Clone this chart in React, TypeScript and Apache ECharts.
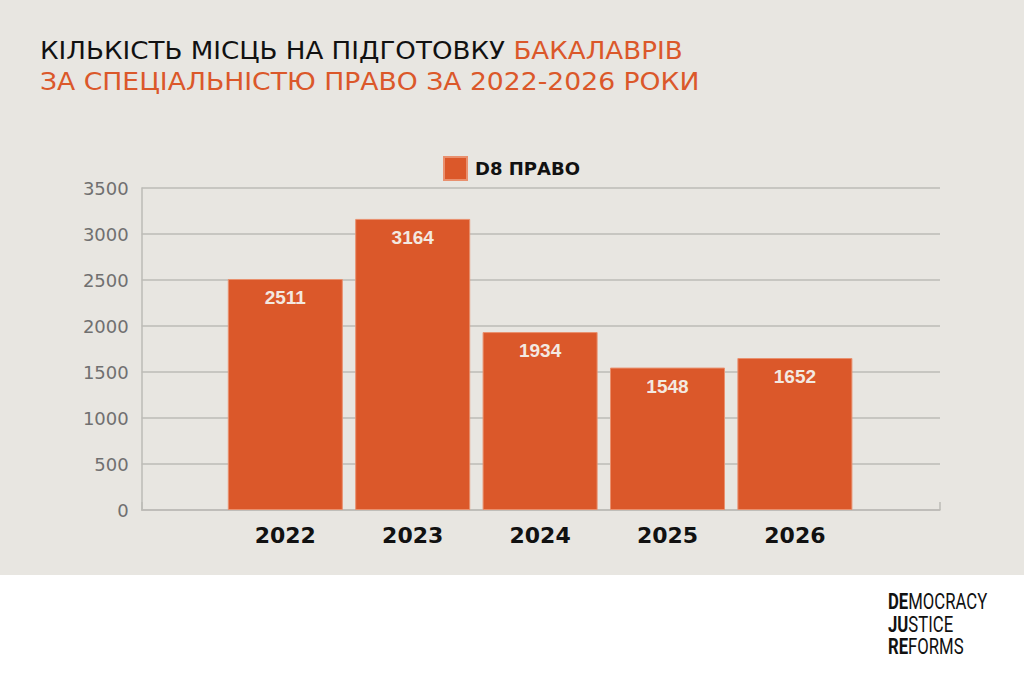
import { useEffect, useRef } from 'react';
import * as echarts from 'echarts';

const years = ['2022', '2023', '2024', '2025', '2026'];
const places = [2511, 3164, 1934, 1548, 1652];
const seriesName = 'D8 ПРАВО';
const yTicks = { min: 0, max: 3500, step: 500 };

const titleBlack = 'КІЛЬКІСТЬ МІСЦЬ НА ПІДГОТОВКУ ';
const titleOrange1 = 'БАКАЛАВРІВ';
const titleOrange2 = 'ЗА СПЕЦІАЛЬНІСТЮ ПРАВО ЗА 2022-2026 РОКИ';
const logoLines = [
    ['DE', 'MOCRACY'],
    ['JU', 'STICE'],
    ['RE', 'FORMS'],
];

const ORANGE = '#db582a';
const BG = '#e8e6e1';
const LINE = '#bdbbb6';

const App = () => {
    const chartRef = useRef<HTMLDivElement | null>(null);

    useEffect(() => {
        const chart = echarts.init(chartRef.current!, null, { renderer: 'svg' });

        const option: echarts.EChartsOption = {
            animation: false,
            backgroundColor: '#ffffff',
            graphic: [
                { type: 'rect', z: -10, shape: { x: 0, y: 0, width: 1024, height: 575 }, style: { fill: BG } },
                {
                    type: 'text',
                    x: 40,
                    y: 51,
                    scaleX: 1.09,
                    style: {
                        text: `{k|${titleBlack}}{o|${titleOrange1}}`,
                        verticalAlign: 'middle',
                        rich: {
                            k: { fontFamily: 'DejaVu Sans', fontSize: 24, fill: '#111111' },
                            o: { fontFamily: 'DejaVu Sans', fontSize: 24, fill: ORANGE },
                        },
                    },
                },
                {
                    type: 'text',
                    x: 40,
                    y: 81,
                    scaleX: 1.11,
                    style: {
                        text: titleOrange2,
                        verticalAlign: 'middle',
                        fontFamily: 'DejaVu Sans',
                        fontSize: 24,
                        fill: ORANGE,
                    },
                },
                ...logoLines.map((l, i) => ({
                    type: 'text' as const,
                    x: 888,
                    y: 602 + i * 22.5,
                    scaleX: 0.76,
                    style: {
                        text: `{b|${l[0]}}{r|${l[1]}}`,
                        verticalAlign: 'middle' as const,
                        rich: {
                            b: { fontFamily: 'Roboto', fontSize: 22, fontWeight: 'bold' as const, fill: '#111' },
                            r: { fontFamily: 'Roboto', fontSize: 22, fill: '#111' },
                        },
                    },
                })),
            ],
            legend: {
                left: 443,
                top: 156,
                padding: 0,
                icon: 'rect',
                itemWidth: 23,
                itemHeight: 23,
                textStyle: { fontFamily: 'DejaVu Sans', fontWeight: 'bold', fontSize: 18, color: '#111', padding: [0, 0, 0, 3] },
                data: [seriesName],
            },
            grid: [
                { left: 221.6, right: 165.4, top: 188, bottom: 167 },
                { left: 141.7, right: 84, top: 188, bottom: 167 },
            ],
            xAxis: [
                {
                    gridIndex: 0,
                    type: 'category',
                    data: years,
                    axisLine: { show: false },
                    axisTick: { show: false },
                    axisLabel: { fontFamily: 'DejaVu Sans', fontWeight: 'bold', fontSize: 22, color: '#111', margin: 14 },
                },
                {
                    gridIndex: 1,
                    type: 'value',
                    min: 0,
                    max: 1,
                    interval: 1,
                    axisLine: { show: true, lineStyle: { color: LINE, width: 1.5 } },
                    axisTick: { show: true, inside: true, length: 8, lineStyle: { color: LINE, width: 1.5 } },
                    axisLabel: { show: false },
                    splitLine: { show: false },
                },
            ],
            yAxis: [
                { gridIndex: 0, type: 'value', min: yTicks.min, max: yTicks.max, interval: yTicks.step, show: false, splitLine: { show: false } },
                {
                    gridIndex: 1,
                    type: 'value',
                    min: yTicks.min,
                    max: yTicks.max,
                    interval: yTicks.step,
                    axisLine: { show: true, lineStyle: { color: LINE, width: 1.5 } },
                    axisTick: { show: false },
                    axisLabel: {
                        fontFamily: 'DejaVu Sans',
                        fontSize: 18,
                        color: '#707070',
                        margin: 13,
                        formatter: (v: number) => String(v),
                    },
                    splitLine: { lineStyle: { color: LINE, width: 1.5 } },
                },
            ],
            series: [
                {
                    name: seriesName,
                    type: 'bar',
                    xAxisIndex: 0,
                    yAxisIndex: 0,
                    data: places,
                    barWidth: 115,
                    itemStyle: { color: ORANGE, borderColor: '#e9906e', borderWidth: 1 },
                    label: {
                        show: true,
                        position: 'insideTop',
                        distance: 9,
                        fontFamily: 'Liberation Sans',
                        fontWeight: 'bold',
                        fontSize: 19,
                        color: '#f3e9e1',
                    },
                },
            ],
        };

        chart.setOption(option);
        return () => {
            chart.dispose();
        };
    }, []);

    return <div ref={chartRef} style={{ position: 'absolute', left: 0, top: 0, width: 1024, height: 677 }} />;
};

export default App;
